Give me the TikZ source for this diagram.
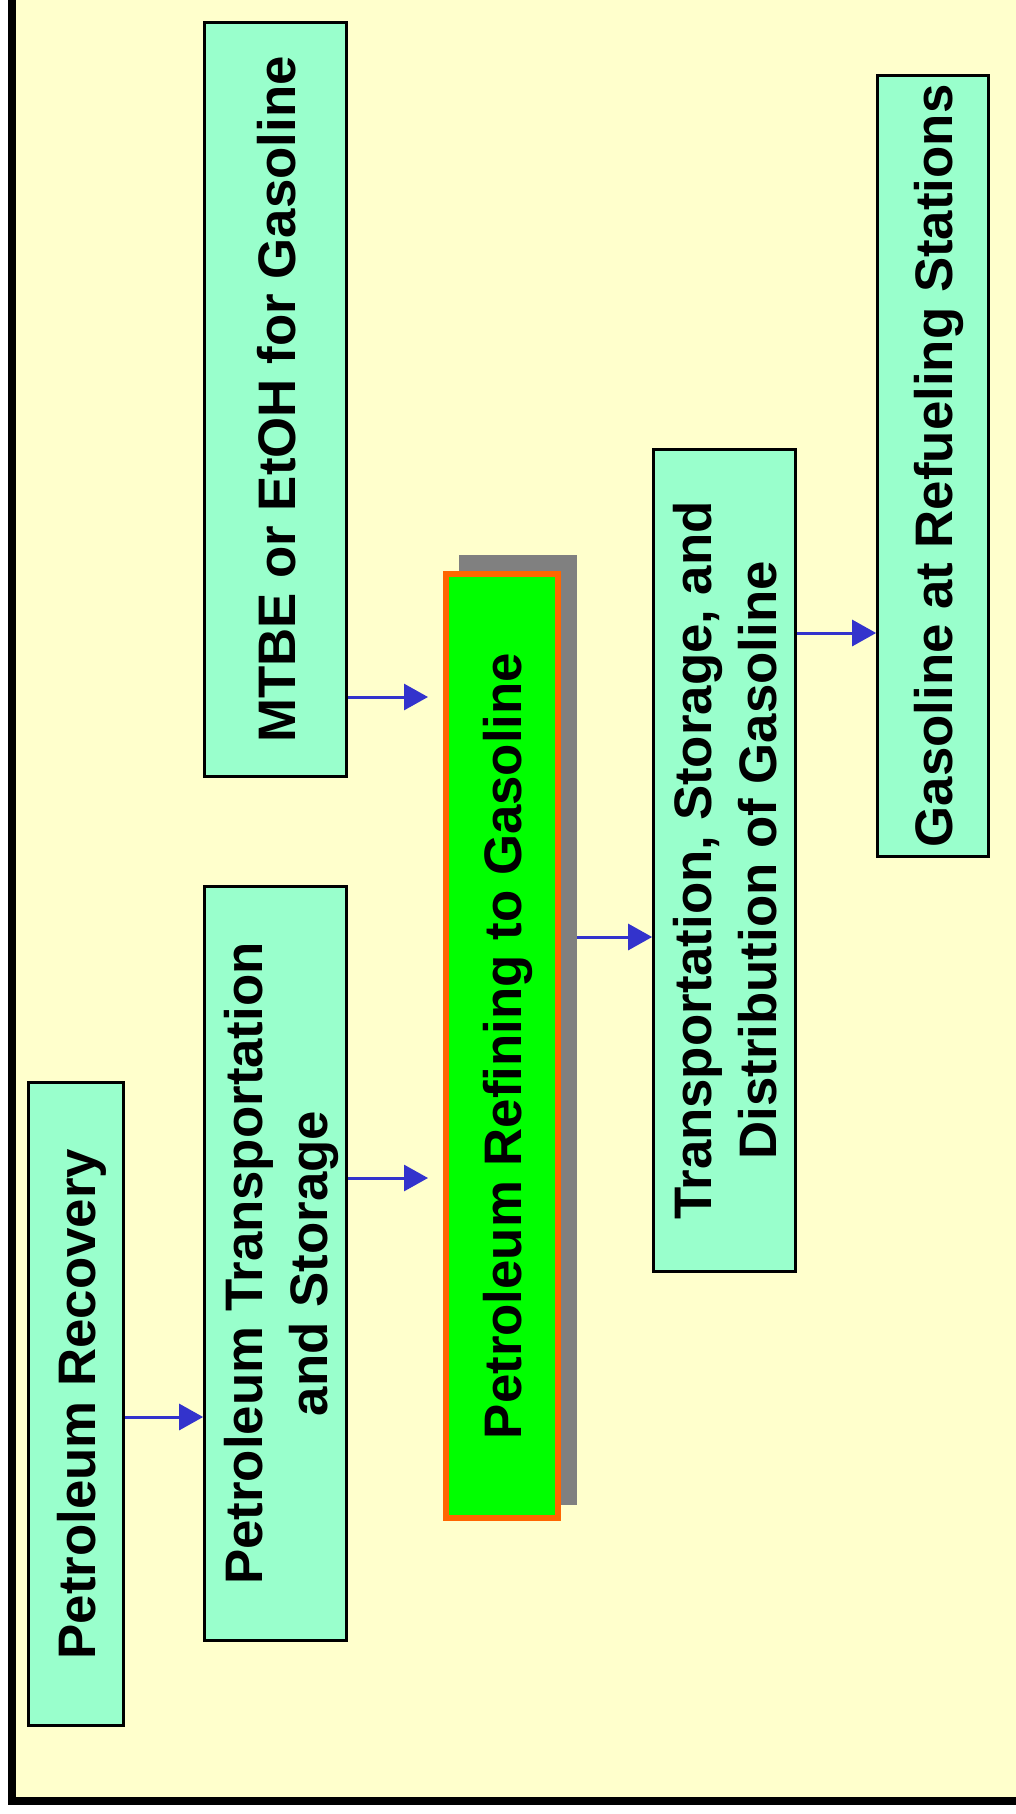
\documentclass[tikz,border=0pt]{standalone}
\usepackage{fontspec}
\setmainfont{Liberation Sans}
\usepackage{xcolor}
\usetikzlibrary{arrows.meta,calc}
\definecolor{bgyellow}{HTML}{FFFFCC}
\definecolor{mint}{HTML}{99FFCC}
\definecolor{refgreen}{HTML}{00FF00}
\definecolor{refborder}{HTML}{FF6600}
\definecolor{shadowgray}{HTML}{808080}
\definecolor{flowblue}{HTML}{3333CC}
\newcommand\lnstrut{\rule[-5.5pt]{0pt}{30.8pt}}

\begin{document}
\begin{tikzpicture}[
  x=0.5pt,y=-0.5pt,
  stage/.style={draw,line width=1.35pt,fill=mint,rotate=90,align=center,
                inner sep=0pt,font=\fontsize{26.4}{32.5}\selectfont\bfseries},
  refstage/.style={stage,draw=refborder,line width=3pt,fill=refgreen},
  flow/.style={-{Triangle[length=12pt,width=13pt]},line width=1.5pt,draw=flowblue}
]
\useasboundingbox (0,0) rectangle (1016,1814);
\fill[white] (0,0) rectangle (1016,1814);
\filldraw[fill=bgyellow,draw=black,line width=4pt] (12,-20) rectangle (1040,1801);

% stages
\node[stage,minimum width=321.5pt,minimum height=47.5pt] (rec) at (76,1404) {\lnstrut Petroleum Recovery};
\node[stage,minimum width=377pt,minimum height=71pt] (ptrans) at (275.5,1263.5) {\lnstrut Petroleum Transportation\\\lnstrut and Storage};
\node[stage,minimum width=377pt,minimum height=71pt] (mtbe) at (275.5,399.5) {\lnstrut MTBE or EtOH for Gasoline};
\fill[shadowgray] (459,555) rectangle (577,1505);
\node[refstage,minimum width=472pt,minimum height=56pt] (refine) at (502,1046) {\lnstrut Petroleum Refining to Gasoline};
\node[stage,minimum width=411pt,minimum height=71pt] (tsd) at (724.5,860.5) {\lnstrut Transportation, Storage, and\\\lnstrut Distribution of Gasoline};
\node[stage,minimum width=390.5pt,minimum height=55.5pt] (gas) at (933,466) {\lnstrut Gasoline at Refueling Stations};

% arrow heights
\coordinate (h1) at (0,1417);
\coordinate (h2) at (0,1178);
\coordinate (h3) at (0,697);
\coordinate (h4) at (0,937);
\coordinate (h5) at (0,633);

\draw[flow] (rec.south |- h1) -- (ptrans.north |- h1);
\draw[flow,shorten >=7.5pt] (ptrans.south |- h2) -- (refine.north |- h2);
\draw[flow,shorten >=7.5pt] (mtbe.south |- h3) -- (refine.north |- h3);
\draw[flow] ($(refine.south |- h4)+(16,0)$) -- (tsd.north |- h4);
\draw[flow] (tsd.south |- h5) -- (gas.north |- h5);
\end{tikzpicture}
\end{document}
